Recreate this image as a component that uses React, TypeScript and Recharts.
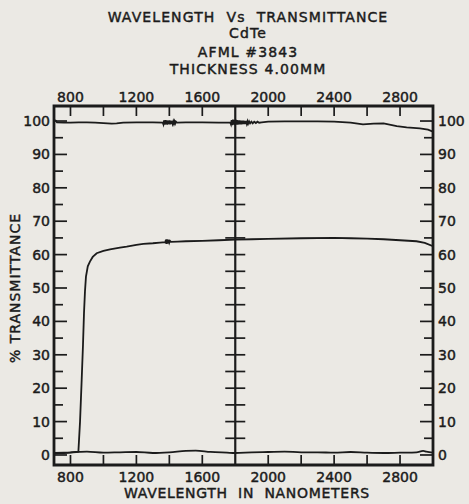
import React from 'react';
import { ComposedChart, Line, Scatter, XAxis, YAxis, ReferenceArea, ReferenceLine } from 'recharts';

const TITLE_LINES = ['WAVELENGTH  Vs  TRANSMITTANCE', 'CdTe', 'AFML #3843', 'THICKNESS 4.00MM'];
const Y_TITLE = '% TRANSMITTANCE';
const X_TITLE = 'WAVELENGTH  IN  NANOMETERS';

const X_TICKS = [800, 1000, 1200, 1400, 1600, 1800, 2000, 2200, 2400, 2600, 2800];
const X_LABELS = [800, 1200, 1600, 2000, 2400, 2800];
const Y_TICKS = [0, 5, 10, 15, 20, 25, 30, 35, 40, 45, 50, 55, 60, 65, 70, 75, 80, 85, 90, 95, 100];
const Y_LABELS = [0, 10, 20, 30, 40, 50, 60, 70, 80, 90, 100];
const DIVIDER_NM = 1800;
const DIVIDER_TICKS = [5, 10, 15, 20, 25, 30, 35, 40, 45, 50, 55, 60, 65, 70, 75, 80, 85, 90, 95];

// sample curve (CdTe, 4.00 mm)
const SAMPLE_NM = [700, 760, 800, 848, 858, 868, 876, 882, 888, 894, 905, 918, 935, 959, 1000, 1040, 1100, 1141, 1200, 1242, 1300, 1343,
  1376, 1379, 1382, 1385, 1388, 1391, 1394, 1397, 1400, 1404, 1410,
  1450, 1500, 1600, 1700, 1800, 1900, 2000, 2200, 2400, 2500, 2600, 2700, 2800, 2900, 2950, 3000];
const SAMPLE_T = [0.6, 0.7, 0.8, 1.0, 10, 22.5, 33, 42.4, 49, 53.4, 56.5, 57.9, 59.3, 60.4, 61.1, 61.6, 62.1, 62.4, 62.9, 63.2, 63.4, 63.6,
  63.7, 64.5, 63.2, 64.6, 63.3, 64.5, 63.4, 64.4, 63.6, 64.1, 63.8,
  63.9, 64.0, 64.1, 64.3, 64.5, 64.6, 64.7, 64.9, 65.0, 64.9, 64.8, 64.6, 64.3, 64.0, 63.5, 62.5];

// 100% reference line
const REF100_NM = [700, 712, 718, 760, 800, 850, 900, 950, 1000, 1050, 1080, 1120, 1200, 1300, 1360,
  1364, 1368, 1372, 1376, 1380, 1384, 1388, 1392, 1396, 1400, 1404, 1408, 1412, 1416, 1420, 1424, 1428, 1432, 1436, 1440, 1446,
  1500, 1600, 1700, 1770,
  1774, 1778, 1782, 1786, 1790, 1794, 1798, 1802, 1806, 1810, 1814, 1818, 1822, 1826, 1830, 1834, 1838, 1842, 1846, 1850,
  1854, 1858, 1862, 1866, 1870, 1874, 1878, 1884, 1890, 1898, 1906, 1915, 1925, 1935, 1945,
  1960, 2000, 2100, 2200, 2300, 2400, 2500, 2575, 2640, 2700, 2780, 2840, 2920, 2970, 3000];
const REF100_T = [100.3, 100.1, 99.6, 99.5, 99.5, 99.6, 99.6, 99.5, 99.4, 99.2, 99.3, 99.5, 99.6, 99.6, 99.5,
  99.0, 100.2, 98.9, 100.3, 99.0, 100.2, 98.9, 100.1, 99.1, 100.2, 99.0, 100.1, 99.1, 100.0, 99.2, 99.9, 99.2, 99.9, 99.3, 99.8, 99.5,
  99.6, 99.6, 99.5, 99.5,
  99.0, 100.3, 98.8, 100.4, 98.9, 100.3, 98.8, 100.4, 98.9, 100.3, 98.9, 100.2, 99.0, 100.2, 99.0, 100.1, 99.0, 100.1, 99.1, 100.1,
  99.1, 100.0, 99.1, 100.0, 99.2, 99.9, 99.2, 99.9, 99.3, 99.8, 99.3, 99.8, 99.4, 99.8, 99.5,
  99.6, 99.8, 99.9, 99.9, 99.9, 99.8, 99.5, 99.0, 99.2, 99.3, 98.5, 98.1, 97.8, 97.4, 96.8];

// 0% reference line
const REF0_NM = [700, 730, 760, 850, 900, 1000, 1100, 1200, 1300, 1400, 1500, 1560, 1650, 1750, 1800, 1900, 2000, 2100, 2200, 2300, 2400, 2500, 2600, 2700, 2800, 2900, 2940, 2960, 3000];
const REF0_T = [0.4, 0.6, 0.6, 0.9, 1.0, 0.7, 0.8, 0.9, 0.6, 0.8, 1.2, 1.3, 0.9, 0.7, 0.6, 0.8, 0.9, 1.0, 0.8, 0.8, 0.7, 0.9, 0.7, 0.6, 0.7, 0.8, 1.2, 1.0, 0.7];

const zip = (xs: number[], ys: number[]) => xs.map((nm, i) => ({ nm, t: ys[i] }));
const sampleData = zip(SAMPLE_NM, SAMPLE_T);
const ref100Data = zip(REF100_NM, REF100_T);
const ref0Data = zip(REF0_NM, REF0_T);
const dividerData = DIVIDER_TICKS.map((t) => ({ nm: DIVIDER_NM, t }));

const INK = '#1b1b1b';
const PAPER = '#ebe9e4';
const FONT = '"DejaVu Sans", sans-serif';

const XTick = (props: any) => {
  const { x, y, payload, side } = props;
  const v = payload.value;
  const dir = side === 'top' ? 1 : -1;
  return (
    <g>
      {v !== DIVIDER_NM && <line x1={x} x2={x} y1={y} y2={y + dir * 10} stroke={INK} strokeWidth={1.7} />}
      {X_LABELS.includes(v) && (
        <text x={x} y={side === 'top' ? y - 9 : y + 12} textAnchor="middle" dominantBaseline="central"
          fill={INK} stroke={INK} strokeWidth={0.45} fontSize={14} fontFamily={FONT}>{v}</text>
      )}
    </g>
  );
};

const YTick = (props: any) => {
  const { x, y, payload, side } = props;
  const v = payload.value;
  const len = v % 10 === 0 ? 13 : 9;
  const dir = side === 'left' ? 1 : -1;
  return (
    <g>
      <line x1={x} x2={x + dir * len} y1={y} y2={y} stroke={INK} strokeWidth={1.7} />
      {Y_LABELS.includes(v) && (
        <text x={side === 'left' ? x - 4 : x + 5} y={y} textAnchor={side === 'left' ? 'end' : 'start'}
          dominantBaseline="central" fill={INK} stroke={INK} strokeWidth={0.45} fontSize={14} fontFamily={FONT}>{v}</text>
      )}
    </g>
  );
};

const DividerTick = (props: any) => {
  const { cx, cy } = props;
  return <line x1={cx - 10} x2={cx + 10} y1={cy} y2={cy} stroke={INK} strokeWidth={1.7} />;
};

const textStyle: React.CSSProperties = {
  position: 'absolute',
  transform: 'translate(-50%, -50%)',
  fontFamily: FONT,
  fontSize: 14,
  color: INK,
  whiteSpace: 'pre',
  lineHeight: 1,
  WebkitTextStroke: '0.45px ' + INK,
};

export default function App() {
  return (
    <div style={{ position: 'absolute', left: 0, top: 0, width: 469, height: 504, background: PAPER, overflow: 'hidden' }}>
      <ComposedChart width={469} height={504} margin={{ top: 76, right: 0, bottom: 9, left: 14 }}>
        <XAxis xAxisId="top" orientation="top" type="number" dataKey="nm" domain={[700, 3000]} ticks={X_TICKS}
          interval={0} height={30} tickSize={0} tickMargin={0} tickLine={false} axisLine={false}
          tick={(p: any) => <XTick {...p} side="top" />} allowDataOverflow />
        <XAxis xAxisId="bottom" orientation="bottom" type="number" dataKey="nm" domain={[700, 3000]} ticks={X_TICKS}
          interval={0} height={30} tickSize={0} tickMargin={0} tickLine={false} axisLine={false}
          tick={(p: any) => <XTick {...p} side="bottom" />} allowDataOverflow />
        <YAxis yAxisId="left" orientation="left" type="number" domain={[-3, 104.5]} ticks={Y_TICKS} interval={0}
          width={40} tickSize={0} tickMargin={0} tickLine={false} axisLine={false}
          tick={(p: any) => <YTick {...p} side="left" />} allowDataOverflow />
        <YAxis yAxisId="right" orientation="right" type="number" domain={[-3, 104.5]} ticks={Y_TICKS} interval={0}
          width={36} tickSize={0} tickMargin={0} tickLine={false} axisLine={false}
          tick={(p: any) => <YTick {...p} side="right" />} allowDataOverflow />

        <ReferenceArea xAxisId="bottom" yAxisId="left" x1={700} x2={3000} y1={-3} y2={104.5}
          fill="none" stroke={INK} strokeWidth={2.8} />
        <ReferenceLine xAxisId="bottom" yAxisId="left" x={DIVIDER_NM} stroke={INK} strokeWidth={2.2} />
        <Scatter xAxisId="bottom" yAxisId="left" data={dividerData} dataKey="t" shape={DividerTick} isAnimationActive={false} />

        <Line xAxisId="bottom" yAxisId="left" data={ref100Data} dataKey="t" type="linear" stroke={INK} strokeWidth={1.8}
          dot={false} isAnimationActive={false} />
        <Line xAxisId="bottom" yAxisId="left" data={ref0Data} dataKey="t" type="monotone" stroke={INK} strokeWidth={1.8}
          dot={false} isAnimationActive={false} />
        <Line xAxisId="bottom" yAxisId="left" data={sampleData} dataKey="t" type="linear" stroke={INK} strokeWidth={1.8}
          dot={false} isAnimationActive={false} />
      </ComposedChart>

      {TITLE_LINES.map((s, i) => (
        <div key={s} style={{ ...textStyle, left: 248, top: [17, 33, 52, 69][i], letterSpacing: 1.1 }}>{s}</div>
      ))}
      <div style={{ ...textStyle, left: 247, top: 493, letterSpacing: 0.7 }}>{X_TITLE}</div>
      <div style={{ ...textStyle, left: 15, top: 288, transform: 'translate(-50%, -50%) rotate(-90deg)', letterSpacing: 1 }}>{Y_TITLE}</div>
    </div>
  );
}
